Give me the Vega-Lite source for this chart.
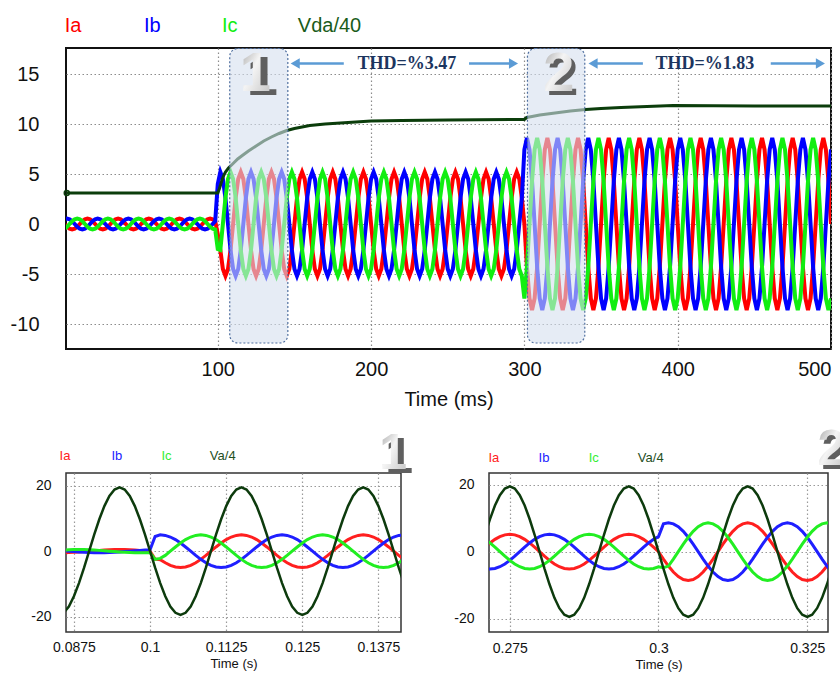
{
"$schema": "https://vega.github.io/schema/vega-lite/v6.json",
"padding": {"left": 9, "top": 14, "right": 0, "bottom": 0},
"background": "white",
"config": {
  "font": "Liberation Sans",
  "axis": {"domain": false, "ticks": false, "tickSize": 0, "grid": true, "gridColor": "#8c8c8c", "gridDash": [1.5, 2.5], "gridWidth": 1.2, "labelColor": "#111111", "titleColor": "#111111", "titleFontWeight": "normal", "labelFont": "Liberation Sans", "titleFont": "Liberation Sans", "labelOverlap": false}
},
"datasets": {
"top": [
{"t":0,"a":0,"b":0.48,"c":-0.48},{"t":1.67,"a":-0.28,"b":0.55,"c":-0.28},{"t":3.33,"a":-0.48,"b":0.48,"c":0},{"t":5,"a":-0.55,"b":0.28,"c":0.28},{"t":6.67,"a":-0.48,"b":0,"c":0.48},{"t":8.33,"a":-0.28,"b":-0.28,"c":0.55},{"t":10,"a":0,"b":-0.48,"c":0.48},{"t":11.67,"a":0.28,"b":-0.55,"c":0.28},{"t":13.33,"a":0.48,"b":-0.48,"c":0},{"t":15,"a":0.55,"b":-0.28,"c":-0.28},{"t":16.67,"a":0.48,"b":0,"c":-0.48},{"t":18.33,"a":0.28,"b":0.28,"c":-0.55},
{"t":20,"a":0,"b":0.48,"c":-0.48},{"t":21.67,"a":-0.28,"b":0.55,"c":-0.28},{"t":23.33,"a":-0.48,"b":0.48,"c":0},{"t":25,"a":-0.55,"b":0.28,"c":0.28},{"t":26.67,"a":-0.48,"b":0,"c":0.48},{"t":28.33,"a":-0.28,"b":-0.28,"c":0.55},{"t":30,"a":0,"b":-0.48,"c":0.48},{"t":31.67,"a":0.28,"b":-0.55,"c":0.28},{"t":33.33,"a":0.48,"b":-0.48,"c":0},{"t":35,"a":0.55,"b":-0.28,"c":-0.28},{"t":36.67,"a":0.48,"b":0,"c":-0.48},{"t":38.33,"a":0.28,"b":0.28,"c":-0.55},
{"t":40,"a":0,"b":0.48,"c":-0.48},{"t":41.67,"a":-0.28,"b":0.55,"c":-0.28},{"t":43.33,"a":-0.48,"b":0.48,"c":0},{"t":45,"a":-0.55,"b":0.28,"c":0.28},{"t":46.67,"a":-0.48,"b":0,"c":0.48},{"t":48.33,"a":-0.28,"b":-0.28,"c":0.55},{"t":50,"a":0,"b":-0.48,"c":0.48},{"t":51.67,"a":0.28,"b":-0.55,"c":0.28},{"t":53.33,"a":0.48,"b":-0.48,"c":0},{"t":55,"a":0.55,"b":-0.28,"c":-0.28},{"t":56.67,"a":0.48,"b":0,"c":-0.48},{"t":58.33,"a":0.28,"b":0.28,"c":-0.55},
{"t":60,"a":0,"b":0.48,"c":-0.48},{"t":61.67,"a":-0.28,"b":0.55,"c":-0.28},{"t":63.33,"a":-0.48,"b":0.48,"c":0},{"t":65,"a":-0.55,"b":0.28,"c":0.28},{"t":66.67,"a":-0.48,"b":0,"c":0.48},{"t":68.33,"a":-0.28,"b":-0.28,"c":0.55},{"t":70,"a":0,"b":-0.48,"c":0.48},{"t":71.67,"a":0.28,"b":-0.55,"c":0.28},{"t":73.33,"a":0.48,"b":-0.48,"c":0},{"t":75,"a":0.55,"b":-0.28,"c":-0.28},{"t":76.67,"a":0.48,"b":0,"c":-0.48},{"t":78.33,"a":0.28,"b":0.28,"c":-0.55},
{"t":80,"a":0,"b":0.48,"c":-0.48},{"t":81.67,"a":-0.28,"b":0.55,"c":-0.28},{"t":83.33,"a":-0.48,"b":0.48,"c":0},{"t":85,"a":-0.55,"b":0.28,"c":0.28},{"t":86.67,"a":-0.48,"b":0,"c":0.48},{"t":88.33,"a":-0.28,"b":-0.28,"c":0.55},{"t":90,"a":0,"b":-0.48,"c":0.48},{"t":91.67,"a":0.28,"b":-0.55,"c":0.28},{"t":93.33,"a":0.48,"b":-0.48,"c":0},{"t":95,"a":0.55,"b":-0.28,"c":-0.28},{"t":96.67,"a":0.48,"b":0,"c":-0.48},{"t":98.33,"a":0.28,"b":0.28,"c":-0.55},
{"t":100,"a":-1,"b":4,"c":-2.5},{"t":101.67,"a":-2.6,"b":5.2,"c":-2.6},{"t":103.33,"a":-4.5,"b":4.5,"c":0},{"t":105,"a":-5.2,"b":2.6,"c":2.6},{"t":106.67,"a":-4.5,"b":0,"c":4.5},{"t":108.33,"a":-2.6,"b":-2.6,"c":5.2},{"t":110,"a":0,"b":-4.5,"c":4.5},{"t":111.67,"a":2.6,"b":-5.2,"c":2.6},{"t":113.33,"a":4.5,"b":-4.5,"c":0},{"t":115,"a":5.2,"b":-2.6,"c":-2.6},{"t":116.67,"a":4.5,"b":0,"c":-4.5},{"t":118.33,"a":2.6,"b":2.6,"c":-5.2},
{"t":120,"a":0,"b":4.5,"c":-4.5},{"t":121.67,"a":-2.6,"b":5.2,"c":-2.6},{"t":123.33,"a":-4.5,"b":4.5,"c":0},{"t":125,"a":-5.2,"b":2.6,"c":2.6},{"t":126.67,"a":-4.5,"b":0,"c":4.5},{"t":128.33,"a":-2.6,"b":-2.6,"c":5.2},{"t":130,"a":0,"b":-4.5,"c":4.5},{"t":131.67,"a":2.6,"b":-5.2,"c":2.6},{"t":133.33,"a":4.5,"b":-4.5,"c":0},{"t":135,"a":5.2,"b":-2.6,"c":-2.6},{"t":136.67,"a":4.5,"b":0,"c":-4.5},{"t":138.33,"a":2.6,"b":2.6,"c":-5.2},
{"t":140,"a":0,"b":4.5,"c":-4.5},{"t":141.67,"a":-2.6,"b":5.2,"c":-2.6},{"t":143.33,"a":-4.5,"b":4.5,"c":0},{"t":145,"a":-5.2,"b":2.6,"c":2.6},{"t":146.67,"a":-4.5,"b":0,"c":4.5},{"t":148.33,"a":-2.6,"b":-2.6,"c":5.2},{"t":150,"a":0,"b":-4.5,"c":4.5},{"t":151.67,"a":2.6,"b":-5.2,"c":2.6},{"t":153.33,"a":4.5,"b":-4.5,"c":0},{"t":155,"a":5.2,"b":-2.6,"c":-2.6},{"t":156.67,"a":4.5,"b":0,"c":-4.5},{"t":158.33,"a":2.6,"b":2.6,"c":-5.2},
{"t":160,"a":0,"b":4.5,"c":-4.5},{"t":161.67,"a":-2.6,"b":5.2,"c":-2.6},{"t":163.33,"a":-4.5,"b":4.5,"c":0},{"t":165,"a":-5.2,"b":2.6,"c":2.6},{"t":166.67,"a":-4.5,"b":0,"c":4.5},{"t":168.33,"a":-2.6,"b":-2.6,"c":5.2},{"t":170,"a":0,"b":-4.5,"c":4.5},{"t":171.67,"a":2.6,"b":-5.2,"c":2.6},{"t":173.33,"a":4.5,"b":-4.5,"c":0},{"t":175,"a":5.2,"b":-2.6,"c":-2.6},{"t":176.67,"a":4.5,"b":0,"c":-4.5},{"t":178.33,"a":2.6,"b":2.6,"c":-5.2},
{"t":180,"a":0,"b":4.5,"c":-4.5},{"t":181.67,"a":-2.6,"b":5.2,"c":-2.6},{"t":183.33,"a":-4.5,"b":4.5,"c":0},{"t":185,"a":-5.2,"b":2.6,"c":2.6},{"t":186.67,"a":-4.5,"b":0,"c":4.5},{"t":188.33,"a":-2.6,"b":-2.6,"c":5.2},{"t":190,"a":0,"b":-4.5,"c":4.5},{"t":191.67,"a":2.6,"b":-5.2,"c":2.6},{"t":193.33,"a":4.5,"b":-4.5,"c":0},{"t":195,"a":5.2,"b":-2.6,"c":-2.6},{"t":196.67,"a":4.5,"b":0,"c":-4.5},{"t":198.33,"a":2.6,"b":2.6,"c":-5.2},
{"t":200,"a":0,"b":4.5,"c":-4.5},{"t":201.67,"a":-2.6,"b":5.2,"c":-2.6},{"t":203.33,"a":-4.5,"b":4.5,"c":0},{"t":205,"a":-5.2,"b":2.6,"c":2.6},{"t":206.67,"a":-4.5,"b":0,"c":4.5},{"t":208.33,"a":-2.6,"b":-2.6,"c":5.2},{"t":210,"a":0,"b":-4.5,"c":4.5},{"t":211.67,"a":2.6,"b":-5.2,"c":2.6},{"t":213.33,"a":4.5,"b":-4.5,"c":0},{"t":215,"a":5.2,"b":-2.6,"c":-2.6},{"t":216.67,"a":4.5,"b":0,"c":-4.5},{"t":218.33,"a":2.6,"b":2.6,"c":-5.2},
{"t":220,"a":0,"b":4.5,"c":-4.5},{"t":221.67,"a":-2.6,"b":5.2,"c":-2.6},{"t":223.33,"a":-4.5,"b":4.5,"c":0},{"t":225,"a":-5.2,"b":2.6,"c":2.6},{"t":226.67,"a":-4.5,"b":0,"c":4.5},{"t":228.33,"a":-2.6,"b":-2.6,"c":5.2},{"t":230,"a":0,"b":-4.5,"c":4.5},{"t":231.67,"a":2.6,"b":-5.2,"c":2.6},{"t":233.33,"a":4.5,"b":-4.5,"c":0},{"t":235,"a":5.2,"b":-2.6,"c":-2.6},{"t":236.67,"a":4.5,"b":0,"c":-4.5},{"t":238.33,"a":2.6,"b":2.6,"c":-5.2},
{"t":240,"a":0,"b":4.5,"c":-4.5},{"t":241.67,"a":-2.6,"b":5.2,"c":-2.6},{"t":243.33,"a":-4.5,"b":4.5,"c":0},{"t":245,"a":-5.2,"b":2.6,"c":2.6},{"t":246.67,"a":-4.5,"b":0,"c":4.5},{"t":248.33,"a":-2.6,"b":-2.6,"c":5.2},{"t":250,"a":0,"b":-4.5,"c":4.5},{"t":251.67,"a":2.6,"b":-5.2,"c":2.6},{"t":253.33,"a":4.5,"b":-4.5,"c":0},{"t":255,"a":5.2,"b":-2.6,"c":-2.6},{"t":256.67,"a":4.5,"b":0,"c":-4.5},{"t":258.33,"a":2.6,"b":2.6,"c":-5.2},
{"t":260,"a":0,"b":4.5,"c":-4.5},{"t":261.67,"a":-2.6,"b":5.2,"c":-2.6},{"t":263.33,"a":-4.5,"b":4.5,"c":0},{"t":265,"a":-5.2,"b":2.6,"c":2.6},{"t":266.67,"a":-4.5,"b":0,"c":4.5},{"t":268.33,"a":-2.6,"b":-2.6,"c":5.2},{"t":270,"a":0,"b":-4.5,"c":4.5},{"t":271.67,"a":2.6,"b":-5.2,"c":2.6},{"t":273.33,"a":4.5,"b":-4.5,"c":0},{"t":275,"a":5.2,"b":-2.6,"c":-2.6},{"t":276.67,"a":4.5,"b":0,"c":-4.5},{"t":278.33,"a":2.6,"b":2.6,"c":-5.2},
{"t":280,"a":0,"b":4.5,"c":-4.5},{"t":281.67,"a":-2.6,"b":5.2,"c":-2.6},{"t":283.33,"a":-4.5,"b":4.5,"c":0},{"t":285,"a":-5.2,"b":2.6,"c":2.6},{"t":286.67,"a":-4.5,"b":0,"c":4.5},{"t":288.33,"a":-2.6,"b":-2.6,"c":5.2},{"t":290,"a":0,"b":-4.5,"c":4.5},{"t":291.67,"a":2.6,"b":-5.2,"c":2.6},{"t":293.33,"a":4.5,"b":-4.5,"c":0},{"t":295,"a":5.2,"b":-2.6,"c":-2.6},{"t":296.67,"a":4.5,"b":0,"c":-4.5},{"t":298.33,"a":2.6,"b":2.6,"c":-5.2},
{"t":300,"a":0,"b":7.45,"c":-7.45},{"t":301.67,"a":-4.3,"b":8.6,"c":-4.3},{"t":303.33,"a":-7.45,"b":7.45,"c":0},{"t":305,"a":-8.6,"b":4.3,"c":4.3},{"t":306.67,"a":-7.45,"b":0,"c":7.45},{"t":308.33,"a":-4.3,"b":-4.3,"c":8.6},{"t":310,"a":0,"b":-7.45,"c":7.45},{"t":311.67,"a":4.3,"b":-8.6,"c":4.3},{"t":313.33,"a":7.45,"b":-7.45,"c":0},{"t":315,"a":8.6,"b":-4.3,"c":-4.3},{"t":316.67,"a":7.45,"b":0,"c":-7.45},{"t":318.33,"a":4.3,"b":4.3,"c":-8.6},
{"t":320,"a":0,"b":7.45,"c":-7.45},{"t":321.67,"a":-4.3,"b":8.6,"c":-4.3},{"t":323.33,"a":-7.45,"b":7.45,"c":0},{"t":325,"a":-8.6,"b":4.3,"c":4.3},{"t":326.67,"a":-7.45,"b":0,"c":7.45},{"t":328.33,"a":-4.3,"b":-4.3,"c":8.6},{"t":330,"a":0,"b":-7.45,"c":7.45},{"t":331.67,"a":4.3,"b":-8.6,"c":4.3},{"t":333.33,"a":7.45,"b":-7.45,"c":0},{"t":335,"a":8.6,"b":-4.3,"c":-4.3},{"t":336.67,"a":7.45,"b":0,"c":-7.45},{"t":338.33,"a":4.3,"b":4.3,"c":-8.6},
{"t":340,"a":0,"b":7.45,"c":-7.45},{"t":341.67,"a":-4.3,"b":8.6,"c":-4.3},{"t":343.33,"a":-7.45,"b":7.45,"c":0},{"t":345,"a":-8.6,"b":4.3,"c":4.3},{"t":346.67,"a":-7.45,"b":0,"c":7.45},{"t":348.33,"a":-4.3,"b":-4.3,"c":8.6},{"t":350,"a":0,"b":-7.45,"c":7.45},{"t":351.67,"a":4.3,"b":-8.6,"c":4.3},{"t":353.33,"a":7.45,"b":-7.45,"c":0},{"t":355,"a":8.6,"b":-4.3,"c":-4.3},{"t":356.67,"a":7.45,"b":0,"c":-7.45},{"t":358.33,"a":4.3,"b":4.3,"c":-8.6},
{"t":360,"a":0,"b":7.45,"c":-7.45},{"t":361.67,"a":-4.3,"b":8.6,"c":-4.3},{"t":363.33,"a":-7.45,"b":7.45,"c":0},{"t":365,"a":-8.6,"b":4.3,"c":4.3},{"t":366.67,"a":-7.45,"b":0,"c":7.45},{"t":368.33,"a":-4.3,"b":-4.3,"c":8.6},{"t":370,"a":0,"b":-7.45,"c":7.45},{"t":371.67,"a":4.3,"b":-8.6,"c":4.3},{"t":373.33,"a":7.45,"b":-7.45,"c":0},{"t":375,"a":8.6,"b":-4.3,"c":-4.3},{"t":376.67,"a":7.45,"b":0,"c":-7.45},{"t":378.33,"a":4.3,"b":4.3,"c":-8.6},
{"t":380,"a":0,"b":7.45,"c":-7.45},{"t":381.67,"a":-4.3,"b":8.6,"c":-4.3},{"t":383.33,"a":-7.45,"b":7.45,"c":0},{"t":385,"a":-8.6,"b":4.3,"c":4.3},{"t":386.67,"a":-7.45,"b":0,"c":7.45},{"t":388.33,"a":-4.3,"b":-4.3,"c":8.6},{"t":390,"a":0,"b":-7.45,"c":7.45},{"t":391.67,"a":4.3,"b":-8.6,"c":4.3},{"t":393.33,"a":7.45,"b":-7.45,"c":0},{"t":395,"a":8.6,"b":-4.3,"c":-4.3},{"t":396.67,"a":7.45,"b":0,"c":-7.45},{"t":398.33,"a":4.3,"b":4.3,"c":-8.6},
{"t":400,"a":0,"b":7.45,"c":-7.45},{"t":401.67,"a":-4.3,"b":8.6,"c":-4.3},{"t":403.33,"a":-7.45,"b":7.45,"c":0},{"t":405,"a":-8.6,"b":4.3,"c":4.3},{"t":406.67,"a":-7.45,"b":0,"c":7.45},{"t":408.33,"a":-4.3,"b":-4.3,"c":8.6},{"t":410,"a":0,"b":-7.45,"c":7.45},{"t":411.67,"a":4.3,"b":-8.6,"c":4.3},{"t":413.33,"a":7.45,"b":-7.45,"c":0},{"t":415,"a":8.6,"b":-4.3,"c":-4.3},{"t":416.67,"a":7.45,"b":0,"c":-7.45},{"t":418.33,"a":4.3,"b":4.3,"c":-8.6},
{"t":420,"a":0,"b":7.45,"c":-7.45},{"t":421.67,"a":-4.3,"b":8.6,"c":-4.3},{"t":423.33,"a":-7.45,"b":7.45,"c":0},{"t":425,"a":-8.6,"b":4.3,"c":4.3},{"t":426.67,"a":-7.45,"b":0,"c":7.45},{"t":428.33,"a":-4.3,"b":-4.3,"c":8.6},{"t":430,"a":0,"b":-7.45,"c":7.45},{"t":431.67,"a":4.3,"b":-8.6,"c":4.3},{"t":433.33,"a":7.45,"b":-7.45,"c":0},{"t":435,"a":8.6,"b":-4.3,"c":-4.3},{"t":436.67,"a":7.45,"b":0,"c":-7.45},{"t":438.33,"a":4.3,"b":4.3,"c":-8.6},
{"t":440,"a":0,"b":7.45,"c":-7.45},{"t":441.67,"a":-4.3,"b":8.6,"c":-4.3},{"t":443.33,"a":-7.45,"b":7.45,"c":0},{"t":445,"a":-8.6,"b":4.3,"c":4.3},{"t":446.67,"a":-7.45,"b":0,"c":7.45},{"t":448.33,"a":-4.3,"b":-4.3,"c":8.6},{"t":450,"a":0,"b":-7.45,"c":7.45},{"t":451.67,"a":4.3,"b":-8.6,"c":4.3},{"t":453.33,"a":7.45,"b":-7.45,"c":0},{"t":455,"a":8.6,"b":-4.3,"c":-4.3},{"t":456.67,"a":7.45,"b":0,"c":-7.45},{"t":458.33,"a":4.3,"b":4.3,"c":-8.6},
{"t":460,"a":0,"b":7.45,"c":-7.45},{"t":461.67,"a":-4.3,"b":8.6,"c":-4.3},{"t":463.33,"a":-7.45,"b":7.45,"c":0},{"t":465,"a":-8.6,"b":4.3,"c":4.3},{"t":466.67,"a":-7.45,"b":0,"c":7.45},{"t":468.33,"a":-4.3,"b":-4.3,"c":8.6},{"t":470,"a":0,"b":-7.45,"c":7.45},{"t":471.67,"a":4.3,"b":-8.6,"c":4.3},{"t":473.33,"a":7.45,"b":-7.45,"c":0},{"t":475,"a":8.6,"b":-4.3,"c":-4.3},{"t":476.67,"a":7.45,"b":0,"c":-7.45},{"t":478.33,"a":4.3,"b":4.3,"c":-8.6},
{"t":480,"a":0,"b":7.45,"c":-7.45},{"t":481.67,"a":-4.3,"b":8.6,"c":-4.3},{"t":483.33,"a":-7.45,"b":7.45,"c":0},{"t":485,"a":-8.6,"b":4.3,"c":4.3},{"t":486.67,"a":-7.45,"b":0,"c":7.45},{"t":488.33,"a":-4.3,"b":-4.3,"c":8.6},{"t":490,"a":0,"b":-7.45,"c":7.45},{"t":491.67,"a":4.3,"b":-8.6,"c":4.3},{"t":493.33,"a":7.45,"b":-7.45,"c":0},{"t":495,"a":8.6,"b":-4.3,"c":-4.3},{"t":496.67,"a":7.45,"b":0,"c":-7.45},{"t":498.33,"a":4.3,"b":4.3,"c":-8.6},
{"t":500,"a":0,"b":7.45,"c":-7.45}
],
"vda": [
{"t":1,"v":3.1},{"t":100,"v":3.1},{"t":101,"v":3.5},{"t":102,"v":4.0},{"t":103,"v":4.5},{"t":104,"v":4.9},{"t":105,"v":5.2},{"t":107,"v":5.6},{"t":110,"v":6.05},{"t":113,"v":6.5},{"t":116,"v":6.85},{"t":120,"v":7.3},{"t":125,"v":7.8},{"t":130,"v":8.3},{"t":135,"v":8.7},{"t":140,"v":9.05},{"t":145,"v":9.35},{"t":150,"v":9.55},{"t":160,"v":9.85},{"t":170,"v":10.0},{"t":180,"v":10.1},{"t":190,"v":10.2},{"t":200,"v":10.3},{"t":220,"v":10.35},{"t":250,"v":10.4},{"t":300,"v":10.45},{"t":301.5,"v":10.65},{"t":305,"v":10.75},{"t":310,"v":10.9},{"t":315,"v":11.0},{"t":320,"v":11.1},{"t":325,"v":11.2},{"t":330,"v":11.3},{"t":335,"v":11.38},{"t":340,"v":11.45},{"t":350,"v":11.55},{"t":363,"v":11.66},{"t":380,"v":11.75},{"t":397,"v":11.85},{"t":450,"v":11.8},{"t":500,"v":11.8}
],
"p1": [
{"t":0.085,"v":-19.5,"a":-0.5,"b":0.25,"c":0.25},{"t":0.08583,"v":-18.84,"a":-0.48,"b":0.13,"c":0.35},{"t":0.08667,"v":-16.89,"a":-0.43,"b":0,"c":0.43},{"t":0.0875,"v":-13.79,"a":-0.35,"b":-0.13,"c":0.48},{"t":0.08833,"v":-9.75,"a":-0.25,"b":-0.25,"c":0.5},{"t":0.08917,"v":-5.05,"a":-0.13,"b":-0.35,"c":0.48},{"t":0.09,"v":0,"a":0,"b":-0.43,"c":0.43},{"t":0.09083,"v":5.05,"a":0.13,"b":-0.48,"c":0.35},{"t":0.09167,"v":9.75,"a":0.25,"b":-0.5,"c":0.25},{"t":0.0925,"v":13.79,"a":0.35,"b":-0.48,"c":0.13},{"t":0.09333,"v":16.89,"a":0.43,"b":-0.43,"c":0},{"t":0.09417,"v":18.84,"a":0.48,"b":-0.35,"c":-0.13},
{"t":0.095,"v":19.5,"a":0.5,"b":-0.25,"c":-0.25},{"t":0.09583,"v":18.84,"a":0.48,"b":-0.13,"c":-0.35},{"t":0.09667,"v":16.89,"a":0.43,"b":0,"c":-0.43},{"t":0.0975,"v":13.79,"a":0.35,"b":0.13,"c":-0.48},{"t":0.09833,"v":9.75,"a":0.25,"b":0.25,"c":-0.5},{"t":0.09917,"v":5.05,"a":0.13,"b":0.35,"c":-0.48},{"t":0.1,"v":0,"a":0,"b":0.45,"c":-0.45},{"t":0.10083,"v":-5.05,"a":-2.4,"b":4.5,"c":-2.5},{"t":0.10167,"v":-9.75,"a":-2.6,"b":5,"c":-2.2},{"t":0.1025,"v":-13.79,"a":-3.54,"b":4.83,"c":-1.29},{"t":0.10333,"v":-16.89,"a":-4.33,"b":4.33,"c":0},{"t":0.10417,"v":-18.84,"a":-4.83,"b":3.54,"c":1.29},
{"t":0.105,"v":-19.5,"a":-5,"b":2.5,"c":2.5},{"t":0.10583,"v":-18.84,"a":-4.83,"b":1.29,"c":3.54},{"t":0.10667,"v":-16.89,"a":-4.33,"b":0,"c":4.33},{"t":0.1075,"v":-13.79,"a":-3.54,"b":-1.29,"c":4.83},{"t":0.10833,"v":-9.75,"a":-2.5,"b":-2.5,"c":5},{"t":0.10917,"v":-5.05,"a":-1.29,"b":-3.54,"c":4.83},{"t":0.11,"v":0,"a":0,"b":-4.33,"c":4.33},{"t":0.11083,"v":5.05,"a":1.29,"b":-4.83,"c":3.54},{"t":0.11167,"v":9.75,"a":2.5,"b":-5,"c":2.5},{"t":0.1125,"v":13.79,"a":3.54,"b":-4.83,"c":1.29},{"t":0.11333,"v":16.89,"a":4.33,"b":-4.33,"c":0},{"t":0.11417,"v":18.84,"a":4.83,"b":-3.54,"c":-1.29},
{"t":0.115,"v":19.5,"a":5,"b":-2.5,"c":-2.5},{"t":0.11583,"v":18.84,"a":4.83,"b":-1.29,"c":-3.54},{"t":0.11667,"v":16.89,"a":4.33,"b":0,"c":-4.33},{"t":0.1175,"v":13.79,"a":3.54,"b":1.29,"c":-4.83},{"t":0.11833,"v":9.75,"a":2.5,"b":2.5,"c":-5},{"t":0.11917,"v":5.05,"a":1.29,"b":3.54,"c":-4.83},{"t":0.12,"v":0,"a":0,"b":4.33,"c":-4.33},{"t":0.12083,"v":-5.05,"a":-1.29,"b":4.83,"c":-3.54},{"t":0.12167,"v":-9.75,"a":-2.5,"b":5,"c":-2.5},{"t":0.1225,"v":-13.79,"a":-3.54,"b":4.83,"c":-1.29},{"t":0.12333,"v":-16.89,"a":-4.33,"b":4.33,"c":0},{"t":0.12417,"v":-18.84,"a":-4.83,"b":3.54,"c":1.29},
{"t":0.125,"v":-19.5,"a":-5,"b":2.5,"c":2.5},{"t":0.12583,"v":-18.84,"a":-4.83,"b":1.29,"c":3.54},{"t":0.12667,"v":-16.89,"a":-4.33,"b":0,"c":4.33},{"t":0.1275,"v":-13.79,"a":-3.54,"b":-1.29,"c":4.83},{"t":0.12833,"v":-9.75,"a":-2.5,"b":-2.5,"c":5},{"t":0.12917,"v":-5.05,"a":-1.29,"b":-3.54,"c":4.83},{"t":0.13,"v":0,"a":0,"b":-4.33,"c":4.33},{"t":0.13083,"v":5.05,"a":1.29,"b":-4.83,"c":3.54},{"t":0.13167,"v":9.75,"a":2.5,"b":-5,"c":2.5},{"t":0.1325,"v":13.79,"a":3.54,"b":-4.83,"c":1.29},{"t":0.13333,"v":16.89,"a":4.33,"b":-4.33,"c":0},{"t":0.13417,"v":18.84,"a":4.83,"b":-3.54,"c":-1.29},
{"t":0.135,"v":19.5,"a":5,"b":-2.5,"c":-2.5},{"t":0.13583,"v":18.84,"a":4.83,"b":-1.29,"c":-3.54},{"t":0.13667,"v":16.89,"a":4.33,"b":0,"c":-4.33},{"t":0.1375,"v":13.79,"a":3.54,"b":1.29,"c":-4.83},{"t":0.13833,"v":9.75,"a":2.5,"b":2.5,"c":-5},{"t":0.13917,"v":5.05,"a":1.29,"b":3.54,"c":-4.83},{"t":0.14,"v":0,"a":0,"b":4.33,"c":-4.33},{"t":0.14083,"v":-5.05,"a":-1.29,"b":4.83,"c":-3.54},{"t":0.14167,"v":-9.75,"a":-2.5,"b":5,"c":-2.5}
],
"p2": [
{"t":0.27083,"v":5.05,"a":1.35,"b":-5.02,"c":3.68},{"t":0.27167,"v":9.75,"a":2.6,"b":-5.2,"c":2.6},{"t":0.2725,"v":13.79,"a":3.68,"b":-5.02,"c":1.35},{"t":0.27333,"v":16.89,"a":4.5,"b":-4.5,"c":0},{"t":0.27417,"v":18.84,"a":5.02,"b":-3.68,"c":-1.35},
{"t":0.275,"v":19.5,"a":5.2,"b":-2.6,"c":-2.6},{"t":0.27583,"v":18.84,"a":5.02,"b":-1.35,"c":-3.68},{"t":0.27667,"v":16.89,"a":4.5,"b":0,"c":-4.5},{"t":0.2775,"v":13.79,"a":3.68,"b":1.35,"c":-5.02},{"t":0.27833,"v":9.75,"a":2.6,"b":2.6,"c":-5.2},{"t":0.27917,"v":5.05,"a":1.35,"b":3.68,"c":-5.02},{"t":0.28,"v":0,"a":0,"b":4.5,"c":-4.5},{"t":0.28083,"v":-5.05,"a":-1.35,"b":5.02,"c":-3.68},{"t":0.28167,"v":-9.75,"a":-2.6,"b":5.2,"c":-2.6},{"t":0.2825,"v":-13.79,"a":-3.68,"b":5.02,"c":-1.35},{"t":0.28333,"v":-16.89,"a":-4.5,"b":4.5,"c":0},{"t":0.28417,"v":-18.84,"a":-5.02,"b":3.68,"c":1.35},
{"t":0.285,"v":-19.5,"a":-5.2,"b":2.6,"c":2.6},{"t":0.28583,"v":-18.84,"a":-5.02,"b":1.35,"c":3.68},{"t":0.28667,"v":-16.89,"a":-4.5,"b":0,"c":4.5},{"t":0.2875,"v":-13.79,"a":-3.68,"b":-1.35,"c":5.02},{"t":0.28833,"v":-9.75,"a":-2.6,"b":-2.6,"c":5.2},{"t":0.28917,"v":-5.05,"a":-1.35,"b":-3.68,"c":5.02},{"t":0.29,"v":0,"a":0,"b":-4.5,"c":4.5},{"t":0.29083,"v":5.05,"a":1.35,"b":-5.02,"c":3.68},{"t":0.29167,"v":9.75,"a":2.6,"b":-5.2,"c":2.6},{"t":0.2925,"v":13.79,"a":3.68,"b":-5.02,"c":1.35},{"t":0.29333,"v":16.89,"a":4.5,"b":-4.5,"c":0},{"t":0.29417,"v":18.84,"a":5.02,"b":-3.68,"c":-1.35},
{"t":0.295,"v":19.5,"a":5.2,"b":-2.6,"c":-2.6},{"t":0.29583,"v":18.84,"a":5.02,"b":-1.35,"c":-3.68},{"t":0.29667,"v":16.89,"a":4.5,"b":0,"c":-4.5},{"t":0.2975,"v":13.79,"a":3.68,"b":1.35,"c":-5.02},{"t":0.29833,"v":9.75,"a":2.6,"b":2.6,"c":-5.2},{"t":0.29917,"v":5.05,"a":1.35,"b":3.68,"c":-5.02},{"t":0.3,"v":0,"a":0,"b":4.5,"c":-4.5},{"t":0.30083,"v":-5.05,"a":-2.23,"b":8.31,"c":-4.8},{"t":0.30167,"v":-9.75,"a":-4.3,"b":8.6,"c":-4.3},{"t":0.3025,"v":-13.79,"a":-6.08,"b":8.31,"c":-2.23},{"t":0.30333,"v":-16.89,"a":-7.45,"b":7.45,"c":0},{"t":0.30417,"v":-18.84,"a":-8.31,"b":6.08,"c":2.23},
{"t":0.305,"v":-19.5,"a":-8.6,"b":4.3,"c":4.3},{"t":0.30583,"v":-18.84,"a":-8.31,"b":2.23,"c":6.08},{"t":0.30667,"v":-16.89,"a":-7.45,"b":0,"c":7.45},{"t":0.3075,"v":-13.79,"a":-6.08,"b":-2.23,"c":8.31},{"t":0.30833,"v":-9.75,"a":-4.3,"b":-4.3,"c":8.6},{"t":0.30917,"v":-5.05,"a":-2.23,"b":-6.08,"c":8.31},{"t":0.31,"v":0,"a":0,"b":-7.45,"c":7.45},{"t":0.31083,"v":5.05,"a":2.23,"b":-8.31,"c":6.08},{"t":0.31167,"v":9.75,"a":4.3,"b":-8.6,"c":4.3},{"t":0.3125,"v":13.79,"a":6.08,"b":-8.31,"c":2.23},{"t":0.31333,"v":16.89,"a":7.45,"b":-7.45,"c":0},{"t":0.31417,"v":18.84,"a":8.31,"b":-6.08,"c":-2.23},
{"t":0.315,"v":19.5,"a":8.6,"b":-4.3,"c":-4.3},{"t":0.31583,"v":18.84,"a":8.31,"b":-2.23,"c":-6.08},{"t":0.31667,"v":16.89,"a":7.45,"b":0,"c":-7.45},{"t":0.3175,"v":13.79,"a":6.08,"b":2.23,"c":-8.31},{"t":0.31833,"v":9.75,"a":4.3,"b":4.3,"c":-8.6},{"t":0.31917,"v":5.05,"a":2.23,"b":6.08,"c":-8.31},{"t":0.32,"v":0,"a":0,"b":7.45,"c":-7.45},{"t":0.32083,"v":-5.05,"a":-2.23,"b":8.31,"c":-6.08},{"t":0.32167,"v":-9.75,"a":-4.3,"b":8.6,"c":-4.3},{"t":0.3225,"v":-13.79,"a":-6.08,"b":8.31,"c":-2.23},{"t":0.32333,"v":-16.89,"a":-7.45,"b":7.45,"c":0},{"t":0.32417,"v":-18.84,"a":-8.31,"b":6.08,"c":2.23},
{"t":0.325,"v":-19.5,"a":-8.6,"b":4.3,"c":4.3},{"t":0.32583,"v":-18.84,"a":-8.31,"b":2.23,"c":6.08},{"t":0.32667,"v":-16.89,"a":-7.45,"b":0,"c":7.45},{"t":0.3275,"v":-13.79,"a":-6.08,"b":-2.23,"c":8.31},{"t":0.32833,"v":-9.75,"a":-4.3,"b":-4.3,"c":8.6},{"t":0.32917,"v":-5.05,"a":-2.23,"b":-6.08,"c":8.31}
],
"one": [{}]
},
"spacing": 14,
"vconcat": [
{
 "width": 765, "height": 301,
 "view": {"stroke": "#111111", "strokeWidth": 2},
 "layer": [
  {"data": {"name": "top"}, "mark": {"type": "line", "color": "#ff0000", "strokeWidth": 4, "clip": true},
   "encoding": {
    "x": {"field": "t", "type": "quantitative", "title": "Time (ms)", "scale": {"domain": [1, 500], "nice": false, "zero": false},
          "axis": {"values": [100, 200, 300, 400, 500], "labelExpr": "''+datum.value", "labelFontSize": 20, "labelPadding": 10, "titleFontSize": 20, "titlePadding": 10, "labelFlush": true}},
    "y": {"field": "a", "type": "quantitative", "title": null, "scale": {"domain": [-12.5, 17.6], "nice": false, "zero": false},
          "axis": {"values": [-10, -5, 0, 5, 10, 15], "labelExpr": "''+datum.value", "labelFontSize": 20, "labelPadding": 27, "labelFlush": false}}}},
  {"data": {"name": "top"}, "mark": {"type": "line", "color": "#0000ff", "strokeWidth": 4, "clip": true},
   "encoding": {"x": {"field": "t", "type": "quantitative", "title": "Time (ms)"}, "y": {"field": "b", "type": "quantitative", "title": null}}},
  {"data": {"name": "top"}, "mark": {"type": "line", "color": "#11ee11", "strokeWidth": 4, "clip": true},
   "encoding": {"x": {"field": "t", "type": "quantitative", "title": "Time (ms)"}, "y": {"field": "c", "type": "quantitative", "title": null}}},
  {"data": {"name": "vda"}, "mark": {"type": "line", "color": "#0b3d0b", "strokeWidth": 3, "clip": true},
   "encoding": {"x": {"field": "t", "type": "quantitative", "title": "Time (ms)"}, "y": {"field": "v", "type": "quantitative", "title": null}}},
  {"data": {"name": "one"}, "mark": {"type": "point", "shape": "circle", "filled": false, "color": "#0b3d0b", "size": 25, "strokeWidth": 1.5, "opacity": 1},
   "encoding": {"x": {"datum": 1.5, "type": "quantitative"}, "y": {"datum": 3.1, "type": "quantitative"}}},
  {"data": {"name": "one"}, "mark": {"type": "rect", "fill": "#d5e0ef", "fillOpacity": 0.6, "stroke": "#4f6f9f", "strokeDash": [2, 2], "strokeWidth": 1.2, "cornerRadius": 8},
   "encoding": {"x": {"datum": 107.8, "type": "quantitative"}, "x2": {"datum": 145.7}, "y": {"datum": 17.55, "type": "quantitative"}, "y2": {"datum": -11.9}}},
  {"data": {"name": "one"}, "mark": {"type": "rect", "fill": "#d5e0ef", "fillOpacity": 0.6, "stroke": "#4f6f9f", "strokeDash": [2, 2], "strokeWidth": 1.2, "cornerRadius": 8},
   "encoding": {"x": {"datum": 302, "type": "quantitative"}, "x2": {"datum": 339.4}, "y": {"datum": 17.55, "type": "quantitative"}, "y2": {"datum": -11.9}}},
  {"data": {"name": "one"}, "mark": {"type": "text", "text": "1", "font": "Liberation Sans", "fontWeight": "bold", "fontSize": 56, "color": "#5f5f5f", "dx": 7, "dy": 4, "align": "center", "baseline": "middle"},
   "encoding": {"x": {"datum": 124.5, "type": "quantitative"}, "y": {"datum": 15, "type": "quantitative"}}},
  {"data": {"name": "one"}, "mark": {"type": "text", "text": "1", "font": "Liberation Sans", "fontWeight": "bold", "fontSize": 56, "color": {"gradient": "linear", "x1": 0, "y1": 0, "x2": 1, "y2": 1, "stops": [{"offset": 0, "color": "#9c9c9c"}, {"offset": 0.45, "color": "#f4f4f4"}, {"offset": 1, "color": "#bdbdbd"}]}, "align": "center", "baseline": "middle"},
   "encoding": {"x": {"datum": 124.5, "type": "quantitative"}, "y": {"datum": 15, "type": "quantitative"}}},
  {"data": {"name": "one"}, "mark": {"type": "text", "text": "2", "font": "Liberation Sans", "fontWeight": "bold", "fontSize": 56, "color": "#5f5f5f", "dx": 4, "dy": 4, "align": "center", "baseline": "middle"},
   "encoding": {"x": {"datum": 322.4, "type": "quantitative"}, "y": {"datum": 15, "type": "quantitative"}}},
  {"data": {"name": "one"}, "mark": {"type": "text", "text": "2", "font": "Liberation Sans", "fontWeight": "bold", "fontSize": 56, "color": {"gradient": "linear", "x1": 0, "y1": 0, "x2": 1, "y2": 1, "stops": [{"offset": 0, "color": "#9c9c9c"}, {"offset": 0.45, "color": "#f4f4f4"}, {"offset": 1, "color": "#bdbdbd"}]}, "align": "center", "baseline": "middle"},
   "encoding": {"x": {"datum": 322.4, "type": "quantitative"}, "y": {"datum": 15, "type": "quantitative"}}},
  {"data": {"name": "one"}, "mark": {"type": "rule", "color": "#5b9bd5", "strokeWidth": 2.5},
   "encoding": {"x": {"datum": 150.5, "type": "quantitative"}, "x2": {"datum": 182.2}, "y": {"datum": 16.06, "type": "quantitative"}}},
  {"data": {"name": "one"}, "mark": {"type": "rule", "color": "#5b9bd5", "strokeWidth": 2.5},
   "encoding": {"x": {"datum": 263.9, "type": "quantitative"}, "x2": {"datum": 292.9}, "y": {"datum": 16.06, "type": "quantitative"}}},
  {"data": {"name": "one"}, "mark": {"type": "rule", "color": "#5b9bd5", "strokeWidth": 2.5},
   "encoding": {"x": {"datum": 344.8, "type": "quantitative"}, "x2": {"datum": 377.3}, "y": {"datum": 16.06, "type": "quantitative"}}},
  {"data": {"name": "one"}, "mark": {"type": "rule", "color": "#5b9bd5", "strokeWidth": 2.5},
   "encoding": {"x": {"datum": 460.7, "type": "quantitative"}, "x2": {"datum": 493.1}, "y": {"datum": 16.06, "type": "quantitative"}}},
  {"data": {"name": "one"}, "mark": {"type": "point", "shape": "triangle-left", "filled": true, "color": "#5b9bd5", "size": 110, "opacity": 1},
   "encoding": {"x": {"datum": 150.5, "type": "quantitative"}, "y": {"datum": 16.06, "type": "quantitative"}}},
  {"data": {"name": "one"}, "mark": {"type": "point", "shape": "triangle-right", "filled": true, "color": "#5b9bd5", "size": 110, "opacity": 1},
   "encoding": {"x": {"datum": 292.9, "type": "quantitative"}, "y": {"datum": 16.06, "type": "quantitative"}}},
  {"data": {"name": "one"}, "mark": {"type": "point", "shape": "triangle-left", "filled": true, "color": "#5b9bd5", "size": 110, "opacity": 1},
   "encoding": {"x": {"datum": 344.8, "type": "quantitative"}, "y": {"datum": 16.06, "type": "quantitative"}}},
  {"data": {"name": "one"}, "mark": {"type": "point", "shape": "triangle-right", "filled": true, "color": "#5b9bd5", "size": 110, "opacity": 1},
   "encoding": {"x": {"datum": 493.1, "type": "quantitative"}, "y": {"datum": 16.06, "type": "quantitative"}}},
  {"data": {"name": "one"}, "mark": {"type": "text", "text": "THD=%3.47", "font": "Liberation Serif", "fontWeight": "bold", "fontSize": 18, "color": "#1c355e", "align": "center", "baseline": "middle"},
   "encoding": {"x": {"datum": 223.3, "type": "quantitative"}, "y": {"datum": 16.0, "type": "quantitative"}}},
  {"data": {"name": "one"}, "mark": {"type": "text", "text": "THD=%1.83", "font": "Liberation Serif", "fontWeight": "bold", "fontSize": 18, "color": "#1c355e", "align": "center", "baseline": "middle"},
   "encoding": {"x": {"datum": 417.7, "type": "quantitative"}, "y": {"datum": 16.0, "type": "quantitative"}}},
  {"data": {"name": "one"}, "mark": {"type": "text", "text": "Ia", "fontSize": 20, "color": "#ff0000", "align": "left", "baseline": "middle"},
   "encoding": {"x": {"datum": 0.2, "type": "quantitative"}, "y": {"datum": 19.83, "type": "quantitative"}}},
  {"data": {"name": "one"}, "mark": {"type": "text", "text": "Ib", "fontSize": 20, "color": "#0000ff", "align": "left", "baseline": "middle"},
   "encoding": {"x": {"datum": 51.9, "type": "quantitative"}, "y": {"datum": 19.83, "type": "quantitative"}}},
  {"data": {"name": "one"}, "mark": {"type": "text", "text": "Ic", "fontSize": 20, "color": "#11ee11", "align": "left", "baseline": "middle"},
   "encoding": {"x": {"datum": 102.7, "type": "quantitative"}, "y": {"datum": 19.83, "type": "quantitative"}}},
  {"data": {"name": "one"}, "mark": {"type": "text", "text": "Vda/40", "fontSize": 20, "color": "#1a5c1a", "align": "left", "baseline": "middle"},
   "encoding": {"x": {"datum": 152.2, "type": "quantitative"}, "y": {"datum": 19.83, "type": "quantitative"}}}
 ]
},
{
 "spacing": 39,
 "hconcat": [
 {
  "width": 335, "height": 159,
  "view": {"stroke": "#333333", "strokeWidth": 1.5},
  "layer": [
   {"data": {"name": "p1"}, "mark": {"type": "line", "color": "#ff1f1f", "strokeWidth": 3, "clip": true},
    "encoding": {
     "x": {"field": "t", "type": "quantitative", "title": "Time (s)", "scale": {"domain": [0.0862, 0.1412], "nice": false, "zero": false},
           "axis": {"values": [0.0875, 0.1, 0.1125, 0.125, 0.1375], "labelExpr": "''+datum.value", "labelFontSize": 14, "labelPadding": 8, "titleFontSize": 13, "titlePadding": 3, "labelFlush": false, "gridColor": "#9a9a9a"}},
     "y": {"field": "a", "type": "quantitative", "title": null, "scale": {"domain": [-24.7, 23.9], "nice": false, "zero": false},
           "axis": {"values": [-20, -10, 0, 10, 20], "labelExpr": "''+datum.value", "labelFontSize": 14, "labelPadding": 15, "labelFlush": false, "gridColor": "#9a9a9a"}}}},
   {"data": {"name": "p1"}, "mark": {"type": "line", "color": "#1f1fff", "strokeWidth": 3, "clip": true},
    "encoding": {"x": {"field": "t", "type": "quantitative", "title": "Time (s)"}, "y": {"field": "b", "type": "quantitative", "title": null}}},
   {"data": {"name": "p1"}, "mark": {"type": "line", "color": "#22ee22", "strokeWidth": 3, "clip": true},
    "encoding": {"x": {"field": "t", "type": "quantitative", "title": "Time (s)"}, "y": {"field": "c", "type": "quantitative", "title": null}}},
   {"data": {"name": "p1"}, "mark": {"type": "line", "color": "#0d3b0d", "strokeWidth": 2.5, "clip": true},
    "encoding": {"x": {"field": "t", "type": "quantitative", "title": "Time (s)"}, "y": {"field": "v", "type": "quantitative", "title": null}}},
   {"data": {"name": "one"}, "mark": {"type": "text", "text": "Ia", "fontSize": 13, "color": "#ff2020", "align": "left", "baseline": "middle"},
    "encoding": {"x": {"datum": 0.08515, "type": "quantitative"}, "y": {"datum": 29.2, "type": "quantitative"}}},
   {"data": {"name": "one"}, "mark": {"type": "text", "text": "Ib", "fontSize": 13, "color": "#2020ff", "align": "left", "baseline": "middle"},
    "encoding": {"x": {"datum": 0.09365, "type": "quantitative"}, "y": {"datum": 29.2, "type": "quantitative"}}},
   {"data": {"name": "one"}, "mark": {"type": "text", "text": "Ic", "fontSize": 13, "color": "#33ee33", "align": "left", "baseline": "middle"},
    "encoding": {"x": {"datum": 0.10187, "type": "quantitative"}, "y": {"datum": 29.2, "type": "quantitative"}}},
   {"data": {"name": "one"}, "mark": {"type": "text", "text": "Va/4", "fontSize": 13, "color": "#1f4f1f", "align": "left", "baseline": "middle"},
    "encoding": {"x": {"datum": 0.10982, "type": "quantitative"}, "y": {"datum": 29.2, "type": "quantitative"}}},
   {"data": {"name": "one"}, "mark": {"type": "text", "text": "1", "font": "Liberation Sans", "fontWeight": "bold", "fontSize": 50, "color": "#5f5f5f", "dx": 6, "dy": 4, "align": "center", "baseline": "middle"},
    "encoding": {"x": {"datum": 0.1399, "type": "quantitative"}, "y": {"datum": 29.7, "type": "quantitative"}}},
   {"data": {"name": "one"}, "mark": {"type": "text", "text": "1", "font": "Liberation Sans", "fontWeight": "bold", "fontSize": 50, "color": {"gradient": "linear", "x1": 0, "y1": 0, "x2": 1, "y2": 1, "stops": [{"offset": 0, "color": "#9c9c9c"}, {"offset": 0.45, "color": "#f4f4f4"}, {"offset": 1, "color": "#bdbdbd"}]}, "align": "center", "baseline": "middle"},
    "encoding": {"x": {"datum": 0.1399, "type": "quantitative"}, "y": {"datum": 29.7, "type": "quantitative"}}}
  ]
 },
 {
  "width": 339, "height": 159,
  "view": {"stroke": "#333333", "strokeWidth": 1.5},
  "layer": [
   {"data": {"name": "p2"}, "mark": {"type": "line", "color": "#ff1f1f", "strokeWidth": 3, "clip": true},
    "encoding": {
     "x": {"field": "t", "type": "quantitative", "title": "Time (s)", "scale": {"domain": [0.2715, 0.3285], "nice": false, "zero": false},
           "axis": {"values": [0.275, 0.3, 0.325], "labelExpr": "''+datum.value", "labelFontSize": 14, "labelPadding": 9, "titleFontSize": 13, "titlePadding": 3, "labelFlush": false, "gridColor": "#9a9a9a"}},
     "y": {"field": "a", "type": "quantitative", "title": null, "scale": {"domain": [-24, 23.5], "nice": false, "zero": false},
           "axis": {"values": [-20, -10, 0, 10, 20], "labelExpr": "''+datum.value", "labelFontSize": 14, "labelPadding": 15, "labelFlush": false, "gridColor": "#9a9a9a"}}}},
   {"data": {"name": "p2"}, "mark": {"type": "line", "color": "#1f1fff", "strokeWidth": 3, "clip": true},
    "encoding": {"x": {"field": "t", "type": "quantitative", "title": "Time (s)"}, "y": {"field": "b", "type": "quantitative", "title": null}}},
   {"data": {"name": "p2"}, "mark": {"type": "line", "color": "#22ee22", "strokeWidth": 3, "clip": true},
    "encoding": {"x": {"field": "t", "type": "quantitative", "title": "Time (s)"}, "y": {"field": "c", "type": "quantitative", "title": null}}},
   {"data": {"name": "p2"}, "mark": {"type": "line", "color": "#0d3b0d", "strokeWidth": 2.5, "clip": true},
    "encoding": {"x": {"field": "t", "type": "quantitative", "title": "Time (s)"}, "y": {"field": "v", "type": "quantitative", "title": null}}},
   {"data": {"name": "one"}, "mark": {"type": "text", "text": "Ia", "fontSize": 13, "color": "#ff2020", "align": "left", "baseline": "middle"},
    "encoding": {"x": {"datum": 0.27141, "type": "quantitative"}, "y": {"datum": 28.0, "type": "quantitative"}}},
   {"data": {"name": "one"}, "mark": {"type": "text", "text": "Ib", "fontSize": 13, "color": "#2020ff", "align": "left", "baseline": "middle"},
    "encoding": {"x": {"datum": 0.27984, "type": "quantitative"}, "y": {"datum": 28.0, "type": "quantitative"}}},
   {"data": {"name": "one"}, "mark": {"type": "text", "text": "Ic", "fontSize": 13, "color": "#33ee33", "align": "left", "baseline": "middle"},
    "encoding": {"x": {"datum": 0.28827, "type": "quantitative"}, "y": {"datum": 28.0, "type": "quantitative"}}},
   {"data": {"name": "one"}, "mark": {"type": "text", "text": "Va/4", "fontSize": 13, "color": "#1f4f1f", "align": "left", "baseline": "middle"},
    "encoding": {"x": {"datum": 0.29653, "type": "quantitative"}, "y": {"datum": 28.0, "type": "quantitative"}}},
   {"data": {"name": "one"}, "mark": {"type": "text", "text": "2", "font": "Liberation Sans", "fontWeight": "bold", "fontSize": 50, "color": "#5f5f5f", "dx": 4, "dy": 4, "align": "center", "baseline": "middle"},
    "encoding": {"x": {"datum": 0.32908, "type": "quantitative"}, "y": {"datum": 30.4, "type": "quantitative"}}},
   {"data": {"name": "one"}, "mark": {"type": "text", "text": "2", "font": "Liberation Sans", "fontWeight": "bold", "fontSize": 50, "color": {"gradient": "linear", "x1": 0, "y1": 0, "x2": 1, "y2": 1, "stops": [{"offset": 0, "color": "#9c9c9c"}, {"offset": 0.45, "color": "#f4f4f4"}, {"offset": 1, "color": "#bdbdbd"}]}, "align": "center", "baseline": "middle"},
    "encoding": {"x": {"datum": 0.32908, "type": "quantitative"}, "y": {"datum": 30.4, "type": "quantitative"}}}
  ]
 }
 ]
}
]
}
